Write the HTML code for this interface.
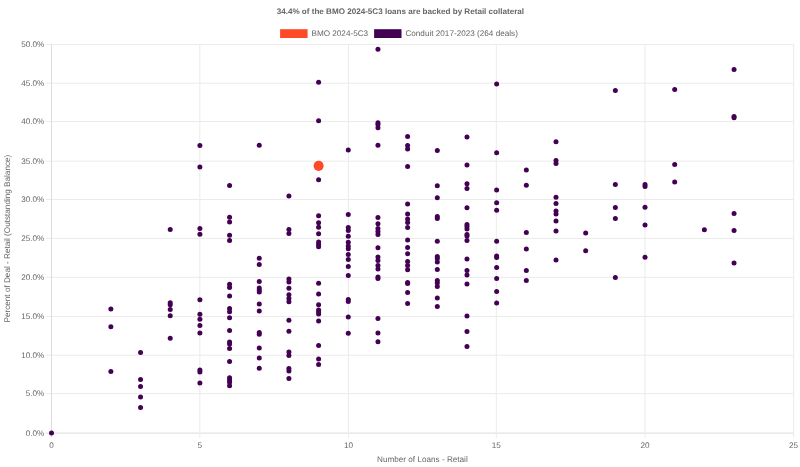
<!DOCTYPE html>
<html><head><meta charset="utf-8"><style>
html,body{margin:0;padding:0;background:#fff;}
body{width:800px;height:467px;overflow:hidden;}
svg{display:block;will-change:transform;}
.t{text-rendering:geometricPrecision;font-family:"Liberation Sans",sans-serif;font-size:8.16px;fill:#666;}
.b{font-weight:bold;}
</style></head><body>
<svg width="800" height="467" viewBox="0 0 800 467">
<rect width="800" height="467" fill="#fff"/>
<line x1="46" y1="433.14" x2="793.61" y2="433.14" stroke="#dcdcdc" stroke-width="1"/>
<line x1="46" y1="393.60" x2="793.61" y2="393.60" stroke="#ebebeb" stroke-width="1"/>
<line x1="46" y1="355.25" x2="793.61" y2="355.25" stroke="#ebebeb" stroke-width="1"/>
<line x1="46" y1="316.46" x2="793.61" y2="316.46" stroke="#ebebeb" stroke-width="1"/>
<line x1="46" y1="277.35" x2="793.61" y2="277.35" stroke="#ebebeb" stroke-width="1"/>
<line x1="46" y1="238.45" x2="793.61" y2="238.45" stroke="#ebebeb" stroke-width="1"/>
<line x1="46" y1="199.54" x2="793.61" y2="199.54" stroke="#ebebeb" stroke-width="1"/>
<line x1="46" y1="161.20" x2="793.61" y2="161.20" stroke="#ebebeb" stroke-width="1"/>
<line x1="46" y1="121.54" x2="793.61" y2="121.54" stroke="#ebebeb" stroke-width="1"/>
<line x1="46" y1="83.25" x2="793.61" y2="83.25" stroke="#ebebeb" stroke-width="1"/>
<line x1="46" y1="44.46" x2="793.61" y2="44.46" stroke="#ebebeb" stroke-width="1"/>
<line x1="51.52" y1="44.46" x2="51.52" y2="437.74" stroke="#dcdcdc" stroke-width="1"/>
<line x1="199.82" y1="44.46" x2="199.82" y2="437.74" stroke="#ebebeb" stroke-width="1"/>
<line x1="348.46" y1="44.46" x2="348.46" y2="437.74" stroke="#ebebeb" stroke-width="1"/>
<line x1="496.28" y1="44.46" x2="496.28" y2="437.74" stroke="#ebebeb" stroke-width="1"/>
<line x1="645.03" y1="44.46" x2="645.03" y2="437.74" stroke="#ebebeb" stroke-width="1"/>
<line x1="793.61" y1="44.46" x2="793.61" y2="437.74" stroke="#ebebeb" stroke-width="1"/>
<text x="44.3" y="435.99" text-anchor="end" class="t">0.0%</text>
<text x="44.3" y="396.45" text-anchor="end" class="t">5.0%</text>
<text x="44.3" y="358.10" text-anchor="end" class="t">10.0%</text>
<text x="44.3" y="319.31" text-anchor="end" class="t">15.0%</text>
<text x="44.3" y="280.20" text-anchor="end" class="t">20.0%</text>
<text x="44.3" y="241.30" text-anchor="end" class="t">25.0%</text>
<text x="44.3" y="202.39" text-anchor="end" class="t">30.0%</text>
<text x="44.3" y="164.05" text-anchor="end" class="t">35.0%</text>
<text x="44.3" y="124.39" text-anchor="end" class="t">40.0%</text>
<text x="44.3" y="86.10" text-anchor="end" class="t">45.0%</text>
<text x="44.3" y="47.31" text-anchor="end" class="t">50.0%</text>
<text x="51.52" y="447.90" text-anchor="middle" class="t">0</text>
<text x="199.82" y="447.90" text-anchor="middle" class="t">5</text>
<text x="348.46" y="447.90" text-anchor="middle" class="t">10</text>
<text x="496.28" y="447.90" text-anchor="middle" class="t">15</text>
<text x="645.03" y="447.90" text-anchor="middle" class="t">20</text>
<text x="793.61" y="447.90" text-anchor="middle" class="t">25</text>
<text x="422.4" y="462.2" text-anchor="middle" class="t">Number of Loans - Retail</text>
<text transform="translate(9.6 238.60) rotate(-90)" x="0" y="0" text-anchor="middle" class="t">Percent of Deal - Retail (Outstanding Balance)</text>
<text x="400.4" y="14.1" text-anchor="middle" class="t b" style="font-size:8.09px">34.4% of the BMO 2024-5C3 loans are backed by Retail collateral</text>
<rect x="280.1" y="29.2" width="27.5" height="8.8" fill="#ff4a28"/>
<text x="311.45" y="36.0" class="t">BMO 2024-5C3</text>
<rect x="374.1" y="29.2" width="27.4" height="8.8" fill="#440154"/>
<text x="405.4" y="36.0" class="t">Conduit 2017-2023 (264 deals)</text>
<circle cx="51.52" cy="433.00" r="2.5" fill="#440154"/>
<circle cx="110.87" cy="309.00" r="2.5" fill="#440154"/>
<circle cx="110.87" cy="326.80" r="2.5" fill="#440154"/>
<circle cx="110.87" cy="371.40" r="2.5" fill="#440154"/>
<circle cx="140.55" cy="352.60" r="2.5" fill="#440154"/>
<circle cx="140.55" cy="379.60" r="2.5" fill="#440154"/>
<circle cx="140.55" cy="386.60" r="2.5" fill="#440154"/>
<circle cx="140.55" cy="397.00" r="2.5" fill="#440154"/>
<circle cx="140.55" cy="407.40" r="2.5" fill="#440154"/>
<circle cx="170.22" cy="229.60" r="2.5" fill="#440154"/>
<circle cx="170.22" cy="302.80" r="2.5" fill="#440154"/>
<circle cx="170.22" cy="304.80" r="2.5" fill="#440154"/>
<circle cx="170.22" cy="309.40" r="2.5" fill="#440154"/>
<circle cx="170.22" cy="315.80" r="2.5" fill="#440154"/>
<circle cx="170.22" cy="338.20" r="2.5" fill="#440154"/>
<circle cx="199.90" cy="145.60" r="2.5" fill="#440154"/>
<circle cx="199.90" cy="167.00" r="2.5" fill="#440154"/>
<circle cx="199.90" cy="228.60" r="2.5" fill="#440154"/>
<circle cx="199.90" cy="234.20" r="2.5" fill="#440154"/>
<circle cx="199.90" cy="299.80" r="2.5" fill="#440154"/>
<circle cx="199.90" cy="314.20" r="2.5" fill="#440154"/>
<circle cx="199.90" cy="319.20" r="2.5" fill="#440154"/>
<circle cx="199.90" cy="325.40" r="2.5" fill="#440154"/>
<circle cx="199.90" cy="333.00" r="2.5" fill="#440154"/>
<circle cx="199.90" cy="370.00" r="2.5" fill="#440154"/>
<circle cx="199.90" cy="372.00" r="2.5" fill="#440154"/>
<circle cx="199.90" cy="383.00" r="2.5" fill="#440154"/>
<circle cx="229.57" cy="185.40" r="2.5" fill="#440154"/>
<circle cx="229.57" cy="217.20" r="2.5" fill="#440154"/>
<circle cx="229.57" cy="222.00" r="2.5" fill="#440154"/>
<circle cx="229.57" cy="235.20" r="2.5" fill="#440154"/>
<circle cx="229.57" cy="240.40" r="2.5" fill="#440154"/>
<circle cx="229.57" cy="284.20" r="2.5" fill="#440154"/>
<circle cx="229.57" cy="287.40" r="2.5" fill="#440154"/>
<circle cx="229.57" cy="296.00" r="2.5" fill="#440154"/>
<circle cx="229.57" cy="308.60" r="2.5" fill="#440154"/>
<circle cx="229.57" cy="311.80" r="2.5" fill="#440154"/>
<circle cx="229.57" cy="317.80" r="2.5" fill="#440154"/>
<circle cx="229.57" cy="330.40" r="2.5" fill="#440154"/>
<circle cx="229.57" cy="342.00" r="2.5" fill="#440154"/>
<circle cx="229.57" cy="344.00" r="2.5" fill="#440154"/>
<circle cx="229.57" cy="348.40" r="2.5" fill="#440154"/>
<circle cx="229.57" cy="361.40" r="2.5" fill="#440154"/>
<circle cx="229.57" cy="377.80" r="2.5" fill="#440154"/>
<circle cx="229.57" cy="380.00" r="2.5" fill="#440154"/>
<circle cx="229.57" cy="382.30" r="2.5" fill="#440154"/>
<circle cx="229.57" cy="385.80" r="2.5" fill="#440154"/>
<circle cx="259.25" cy="145.30" r="2.5" fill="#440154"/>
<circle cx="259.25" cy="258.20" r="2.5" fill="#440154"/>
<circle cx="259.25" cy="264.60" r="2.5" fill="#440154"/>
<circle cx="259.25" cy="281.40" r="2.5" fill="#440154"/>
<circle cx="259.25" cy="288.00" r="2.5" fill="#440154"/>
<circle cx="259.25" cy="290.00" r="2.5" fill="#440154"/>
<circle cx="259.25" cy="292.00" r="2.5" fill="#440154"/>
<circle cx="259.25" cy="304.00" r="2.5" fill="#440154"/>
<circle cx="259.25" cy="311.00" r="2.5" fill="#440154"/>
<circle cx="259.25" cy="332.60" r="2.5" fill="#440154"/>
<circle cx="259.25" cy="334.20" r="2.5" fill="#440154"/>
<circle cx="259.25" cy="348.00" r="2.5" fill="#440154"/>
<circle cx="259.25" cy="358.00" r="2.5" fill="#440154"/>
<circle cx="259.25" cy="368.20" r="2.5" fill="#440154"/>
<circle cx="288.92" cy="196.00" r="2.5" fill="#440154"/>
<circle cx="288.92" cy="229.50" r="2.5" fill="#440154"/>
<circle cx="288.92" cy="233.40" r="2.5" fill="#440154"/>
<circle cx="288.92" cy="279.00" r="2.5" fill="#440154"/>
<circle cx="288.92" cy="282.00" r="2.5" fill="#440154"/>
<circle cx="288.92" cy="288.20" r="2.5" fill="#440154"/>
<circle cx="288.92" cy="294.80" r="2.5" fill="#440154"/>
<circle cx="288.92" cy="298.50" r="2.5" fill="#440154"/>
<circle cx="288.92" cy="301.80" r="2.5" fill="#440154"/>
<circle cx="288.92" cy="320.20" r="2.5" fill="#440154"/>
<circle cx="288.92" cy="331.20" r="2.5" fill="#440154"/>
<circle cx="288.92" cy="352.00" r="2.5" fill="#440154"/>
<circle cx="288.92" cy="355.40" r="2.5" fill="#440154"/>
<circle cx="288.92" cy="368.60" r="2.5" fill="#440154"/>
<circle cx="288.92" cy="371.00" r="2.5" fill="#440154"/>
<circle cx="288.92" cy="378.60" r="2.5" fill="#440154"/>
<circle cx="318.60" cy="82.30" r="2.5" fill="#440154"/>
<circle cx="318.60" cy="120.80" r="2.5" fill="#440154"/>
<circle cx="318.60" cy="179.80" r="2.5" fill="#440154"/>
<circle cx="318.60" cy="215.80" r="2.5" fill="#440154"/>
<circle cx="318.60" cy="222.80" r="2.5" fill="#440154"/>
<circle cx="318.60" cy="227.20" r="2.5" fill="#440154"/>
<circle cx="318.60" cy="233.80" r="2.5" fill="#440154"/>
<circle cx="318.60" cy="242.00" r="2.5" fill="#440154"/>
<circle cx="318.60" cy="244.50" r="2.5" fill="#440154"/>
<circle cx="318.60" cy="246.70" r="2.5" fill="#440154"/>
<circle cx="318.60" cy="283.20" r="2.5" fill="#440154"/>
<circle cx="318.60" cy="294.00" r="2.5" fill="#440154"/>
<circle cx="318.60" cy="304.80" r="2.5" fill="#440154"/>
<circle cx="318.60" cy="310.00" r="2.5" fill="#440154"/>
<circle cx="318.60" cy="312.00" r="2.5" fill="#440154"/>
<circle cx="318.60" cy="314.00" r="2.5" fill="#440154"/>
<circle cx="318.60" cy="321.00" r="2.5" fill="#440154"/>
<circle cx="318.60" cy="345.60" r="2.5" fill="#440154"/>
<circle cx="318.60" cy="359.00" r="2.5" fill="#440154"/>
<circle cx="318.60" cy="364.40" r="2.5" fill="#440154"/>
<circle cx="348.27" cy="150.00" r="2.5" fill="#440154"/>
<circle cx="348.27" cy="214.40" r="2.5" fill="#440154"/>
<circle cx="348.27" cy="227.60" r="2.5" fill="#440154"/>
<circle cx="348.27" cy="230.40" r="2.5" fill="#440154"/>
<circle cx="348.27" cy="236.20" r="2.5" fill="#440154"/>
<circle cx="348.27" cy="242.20" r="2.5" fill="#440154"/>
<circle cx="348.27" cy="246.00" r="2.5" fill="#440154"/>
<circle cx="348.27" cy="248.80" r="2.5" fill="#440154"/>
<circle cx="348.27" cy="254.60" r="2.5" fill="#440154"/>
<circle cx="348.27" cy="259.60" r="2.5" fill="#440154"/>
<circle cx="348.27" cy="266.60" r="2.5" fill="#440154"/>
<circle cx="348.27" cy="275.60" r="2.5" fill="#440154"/>
<circle cx="348.27" cy="299.40" r="2.5" fill="#440154"/>
<circle cx="348.27" cy="301.40" r="2.5" fill="#440154"/>
<circle cx="348.27" cy="317.00" r="2.5" fill="#440154"/>
<circle cx="348.27" cy="333.20" r="2.5" fill="#440154"/>
<circle cx="377.95" cy="49.20" r="2.5" fill="#440154"/>
<circle cx="377.95" cy="122.70" r="2.5" fill="#440154"/>
<circle cx="377.95" cy="124.40" r="2.5" fill="#440154"/>
<circle cx="377.95" cy="127.70" r="2.5" fill="#440154"/>
<circle cx="377.95" cy="145.30" r="2.5" fill="#440154"/>
<circle cx="377.95" cy="217.40" r="2.5" fill="#440154"/>
<circle cx="377.95" cy="223.80" r="2.5" fill="#440154"/>
<circle cx="377.95" cy="228.60" r="2.5" fill="#440154"/>
<circle cx="377.95" cy="231.40" r="2.5" fill="#440154"/>
<circle cx="377.95" cy="234.40" r="2.5" fill="#440154"/>
<circle cx="377.95" cy="247.80" r="2.5" fill="#440154"/>
<circle cx="377.95" cy="257.00" r="2.5" fill="#440154"/>
<circle cx="377.95" cy="260.60" r="2.5" fill="#440154"/>
<circle cx="377.95" cy="265.40" r="2.5" fill="#440154"/>
<circle cx="377.95" cy="269.00" r="2.5" fill="#440154"/>
<circle cx="377.95" cy="277.00" r="2.5" fill="#440154"/>
<circle cx="377.95" cy="278.60" r="2.5" fill="#440154"/>
<circle cx="377.95" cy="318.40" r="2.5" fill="#440154"/>
<circle cx="377.95" cy="333.00" r="2.5" fill="#440154"/>
<circle cx="377.95" cy="341.80" r="2.5" fill="#440154"/>
<circle cx="407.62" cy="136.40" r="2.5" fill="#440154"/>
<circle cx="407.62" cy="145.60" r="2.5" fill="#440154"/>
<circle cx="407.62" cy="148.90" r="2.5" fill="#440154"/>
<circle cx="407.62" cy="166.50" r="2.5" fill="#440154"/>
<circle cx="407.62" cy="204.00" r="2.5" fill="#440154"/>
<circle cx="407.62" cy="214.00" r="2.5" fill="#440154"/>
<circle cx="407.62" cy="219.00" r="2.5" fill="#440154"/>
<circle cx="407.62" cy="222.40" r="2.5" fill="#440154"/>
<circle cx="407.62" cy="227.40" r="2.5" fill="#440154"/>
<circle cx="407.62" cy="240.00" r="2.5" fill="#440154"/>
<circle cx="407.62" cy="247.40" r="2.5" fill="#440154"/>
<circle cx="407.62" cy="253.80" r="2.5" fill="#440154"/>
<circle cx="407.62" cy="261.40" r="2.5" fill="#440154"/>
<circle cx="407.62" cy="265.40" r="2.5" fill="#440154"/>
<circle cx="407.62" cy="269.80" r="2.5" fill="#440154"/>
<circle cx="407.62" cy="282.60" r="2.5" fill="#440154"/>
<circle cx="407.62" cy="283.60" r="2.5" fill="#440154"/>
<circle cx="407.62" cy="292.40" r="2.5" fill="#440154"/>
<circle cx="407.62" cy="303.60" r="2.5" fill="#440154"/>
<circle cx="437.30" cy="150.60" r="2.5" fill="#440154"/>
<circle cx="437.30" cy="185.80" r="2.5" fill="#440154"/>
<circle cx="437.30" cy="197.80" r="2.5" fill="#440154"/>
<circle cx="437.30" cy="216.60" r="2.5" fill="#440154"/>
<circle cx="437.30" cy="218.60" r="2.5" fill="#440154"/>
<circle cx="437.30" cy="241.20" r="2.5" fill="#440154"/>
<circle cx="437.30" cy="256.60" r="2.5" fill="#440154"/>
<circle cx="437.30" cy="258.60" r="2.5" fill="#440154"/>
<circle cx="437.30" cy="262.00" r="2.5" fill="#440154"/>
<circle cx="437.30" cy="269.60" r="2.5" fill="#440154"/>
<circle cx="437.30" cy="280.60" r="2.5" fill="#440154"/>
<circle cx="437.30" cy="283.00" r="2.5" fill="#440154"/>
<circle cx="437.30" cy="286.40" r="2.5" fill="#440154"/>
<circle cx="437.30" cy="298.00" r="2.5" fill="#440154"/>
<circle cx="437.30" cy="306.40" r="2.5" fill="#440154"/>
<circle cx="466.97" cy="136.90" r="2.5" fill="#440154"/>
<circle cx="466.97" cy="165.00" r="2.5" fill="#440154"/>
<circle cx="466.97" cy="183.80" r="2.5" fill="#440154"/>
<circle cx="466.97" cy="188.60" r="2.5" fill="#440154"/>
<circle cx="466.97" cy="207.80" r="2.5" fill="#440154"/>
<circle cx="466.97" cy="224.60" r="2.5" fill="#440154"/>
<circle cx="466.97" cy="226.60" r="2.5" fill="#440154"/>
<circle cx="466.97" cy="229.00" r="2.5" fill="#440154"/>
<circle cx="466.97" cy="234.40" r="2.5" fill="#440154"/>
<circle cx="466.97" cy="236.00" r="2.5" fill="#440154"/>
<circle cx="466.97" cy="240.40" r="2.5" fill="#440154"/>
<circle cx="466.97" cy="259.00" r="2.5" fill="#440154"/>
<circle cx="466.97" cy="270.60" r="2.5" fill="#440154"/>
<circle cx="466.97" cy="275.00" r="2.5" fill="#440154"/>
<circle cx="466.97" cy="284.00" r="2.5" fill="#440154"/>
<circle cx="466.97" cy="316.00" r="2.5" fill="#440154"/>
<circle cx="466.97" cy="331.60" r="2.5" fill="#440154"/>
<circle cx="466.97" cy="346.40" r="2.5" fill="#440154"/>
<circle cx="496.65" cy="84.00" r="2.5" fill="#440154"/>
<circle cx="496.65" cy="152.80" r="2.5" fill="#440154"/>
<circle cx="496.65" cy="190.00" r="2.5" fill="#440154"/>
<circle cx="496.65" cy="202.80" r="2.5" fill="#440154"/>
<circle cx="496.65" cy="210.20" r="2.5" fill="#440154"/>
<circle cx="496.65" cy="241.20" r="2.5" fill="#440154"/>
<circle cx="496.65" cy="256.00" r="2.5" fill="#440154"/>
<circle cx="496.65" cy="257.40" r="2.5" fill="#440154"/>
<circle cx="496.65" cy="267.40" r="2.5" fill="#440154"/>
<circle cx="496.65" cy="278.60" r="2.5" fill="#440154"/>
<circle cx="496.65" cy="291.60" r="2.5" fill="#440154"/>
<circle cx="496.65" cy="303.00" r="2.5" fill="#440154"/>
<circle cx="526.32" cy="170.00" r="2.5" fill="#440154"/>
<circle cx="526.32" cy="185.20" r="2.5" fill="#440154"/>
<circle cx="526.32" cy="232.40" r="2.5" fill="#440154"/>
<circle cx="526.32" cy="249.00" r="2.5" fill="#440154"/>
<circle cx="526.32" cy="270.60" r="2.5" fill="#440154"/>
<circle cx="526.32" cy="280.60" r="2.5" fill="#440154"/>
<circle cx="556.00" cy="141.70" r="2.5" fill="#440154"/>
<circle cx="556.00" cy="160.60" r="2.5" fill="#440154"/>
<circle cx="556.00" cy="163.40" r="2.5" fill="#440154"/>
<circle cx="556.00" cy="197.20" r="2.5" fill="#440154"/>
<circle cx="556.00" cy="203.40" r="2.5" fill="#440154"/>
<circle cx="556.00" cy="210.90" r="2.5" fill="#440154"/>
<circle cx="556.00" cy="213.90" r="2.5" fill="#440154"/>
<circle cx="556.00" cy="221.00" r="2.5" fill="#440154"/>
<circle cx="556.00" cy="231.00" r="2.5" fill="#440154"/>
<circle cx="556.00" cy="260.00" r="2.5" fill="#440154"/>
<circle cx="585.67" cy="233.00" r="2.5" fill="#440154"/>
<circle cx="585.67" cy="250.80" r="2.5" fill="#440154"/>
<circle cx="615.35" cy="90.40" r="2.5" fill="#440154"/>
<circle cx="615.35" cy="184.40" r="2.5" fill="#440154"/>
<circle cx="615.35" cy="207.60" r="2.5" fill="#440154"/>
<circle cx="615.35" cy="218.40" r="2.5" fill="#440154"/>
<circle cx="615.35" cy="277.50" r="2.5" fill="#440154"/>
<circle cx="645.02" cy="184.40" r="2.5" fill="#440154"/>
<circle cx="645.02" cy="186.40" r="2.5" fill="#440154"/>
<circle cx="645.02" cy="207.20" r="2.5" fill="#440154"/>
<circle cx="645.02" cy="225.00" r="2.5" fill="#440154"/>
<circle cx="645.02" cy="257.30" r="2.5" fill="#440154"/>
<circle cx="674.70" cy="89.60" r="2.5" fill="#440154"/>
<circle cx="674.70" cy="164.50" r="2.5" fill="#440154"/>
<circle cx="674.70" cy="182.00" r="2.5" fill="#440154"/>
<circle cx="704.37" cy="229.80" r="2.5" fill="#440154"/>
<circle cx="734.05" cy="69.50" r="2.5" fill="#440154"/>
<circle cx="734.05" cy="116.60" r="2.5" fill="#440154"/>
<circle cx="734.05" cy="117.70" r="2.5" fill="#440154"/>
<circle cx="734.05" cy="213.40" r="2.5" fill="#440154"/>
<circle cx="734.05" cy="230.40" r="2.5" fill="#440154"/>
<circle cx="734.05" cy="262.90" r="2.5" fill="#440154"/>
<circle cx="318.60" cy="165.85" r="5.05" fill="#ff4a28"/>
</svg>
</body></html>
